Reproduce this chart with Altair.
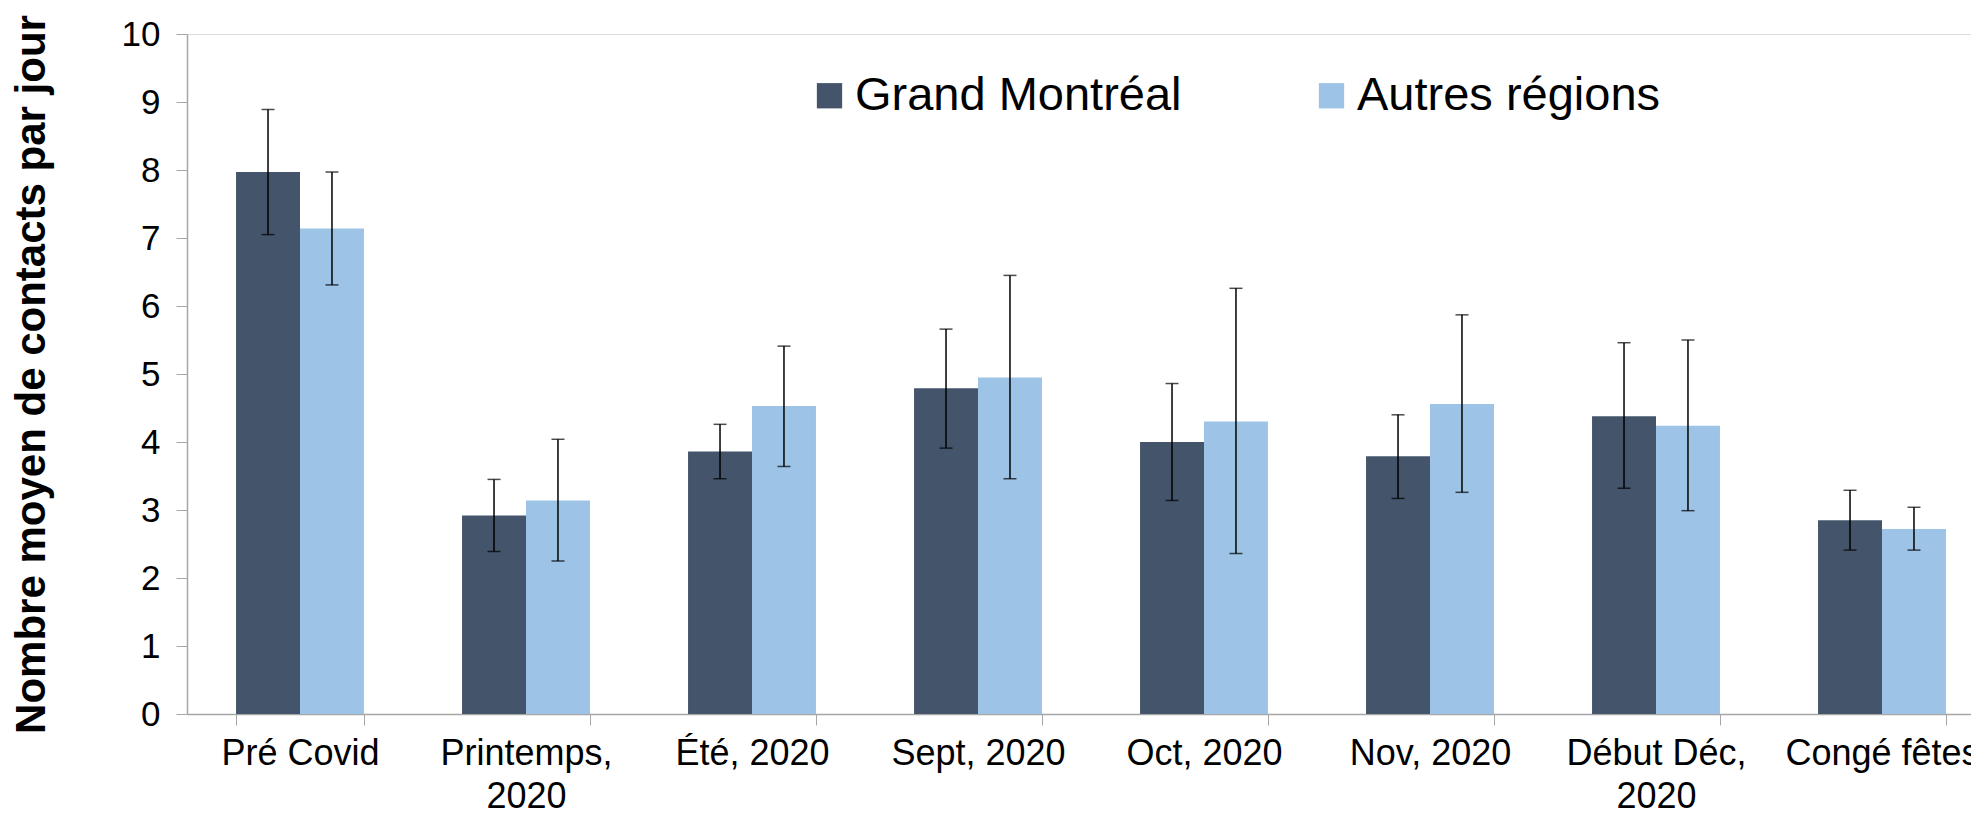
import altair as alt
import pandas as pd

categories = ["Pré Covid", "Printemps, 2020", "Été, 2020", "Sept, 2020",
              "Oct, 2020", "Nov, 2020", "Début Déc, 2020", "Congé fêtes"]
series = ["Grand Montréal", "Autres régions"]

gm_mean = [7.97, 2.92, 3.86, 4.79, 4.00, 3.79, 4.38, 2.85]
gm_low = [7.05, 2.39, 3.46, 3.91, 3.14, 3.17, 3.32, 2.41]
gm_high = [8.89, 3.45, 4.26, 5.66, 4.86, 4.40, 5.46, 3.29]

ar_mean = [7.14, 3.14, 4.53, 4.95, 4.30, 4.56, 4.24, 2.72]
ar_low = [6.31, 2.25, 3.64, 3.46, 2.36, 3.26, 2.99, 2.41]
ar_high = [7.97, 4.04, 5.41, 6.45, 6.26, 5.87, 5.50, 3.04]

wrapped = {"Printemps, 2020": ["Printemps,", "2020"],
           "Début Déc, 2020": ["Début Déc,", "2020"]}

rows = []
for i, c in enumerate(categories):
    rows.append({"cat": c, "serie": series[0], "v": gm_mean[i], "lo": gm_low[i], "hi": gm_high[i]})
    rows.append({"cat": c, "serie": series[1], "v": ar_mean[i], "lo": ar_low[i], "hi": ar_high[i]})
df = pd.DataFrame(rows)

label_expr = "datum.label"
for k, v in wrapped.items():
    label_expr = f"datum.label == '{k}' ? ['{v[0]}', '{v[1]}'] : (" + label_expr + ")"

FONT = "Liberation Sans"

x_enc = alt.X("cat:N", sort=categories, title=None,
              scale=alt.Scale(paddingInner=0.434, paddingOuter=0.217, range=[0, 1808]),
              axis=alt.Axis(labelAngle=0, labelExpr=label_expr, labelFontSize=36,
                            labelFont=FONT, labelColor="#000000", labelPadding=11,
                            labelLineHeight=43, tickBand="extent", tickSize=11,
                            tickColor="#a6a6a6", domainColor="#a6a6a6", domainWidth=1.5,
                            labelOverlap=False, labelBound=False, labelLimit=500))
xoff = alt.XOffset("serie:N", sort=series, scale=alt.Scale(paddingInner=0, paddingOuter=0))

bars = alt.Chart(df).mark_bar().encode(
    x=x_enc,
    xOffset=xoff,
    y=alt.Y("v:Q", title="Nombre moyen de contacts par jour",
            scale=alt.Scale(domain=[0, 10], nice=False, zero=True),
            axis=alt.Axis(values=list(range(0, 11)), format="d", grid=False, tickSize=11,
                          tickColor="#a6a6a6", domainColor="#a6a6a6", domainWidth=1.5,
                          labelFontSize=35, labelFont=FONT, labelColor="#000000",
                          labelPadding=16, titleFont=FONT, titleFontSize=42,
                          titleFontWeight="bold", titleColor="#000000", titlePadding=68)),
    color=alt.Color("serie:N", sort=series, title=None,
                    scale=alt.Scale(domain=series, range=["#44546A", "#9DC3E6"]),
                    legend=alt.Legend(orient="none", legendX=619, legendY=38,
                                      direction="horizontal", symbolType="square",
                                      symbolSize=640, symbolStrokeWidth=0,
                                      labelFont=FONT, labelFontSize=47, labelColor="#000000",
                                      labelOffset=2, columnPadding=126, labelLimit=600))
)

rules = alt.Chart(df).mark_rule(color="#000000", strokeWidth=1.5).encode(
    x=alt.X("cat:N", sort=categories),
    xOffset=xoff,
    y="lo:Q",
    y2="hi:Q",
)

caps_lo = alt.Chart(df).mark_tick(color="#000000", thickness=1.5, size=13, orient="horizontal").encode(
    x=alt.X("cat:N", sort=categories),
    xOffset=xoff,
    y="lo:Q",
)
caps_hi = alt.Chart(df).mark_tick(color="#000000", thickness=1.5, size=13, orient="horizontal").encode(
    x=alt.X("cat:N", sort=categories),
    xOffset=xoff,
    y="hi:Q",
)

chart = alt.layer(bars, rules, caps_lo, caps_hi).properties(
    width=1784, height=680,
    autosize=alt.AutoSizeParams(type="none"),
    padding={"left": 179, "top": 26, "right": 0, "bottom": 104},
).configure_view(stroke=None).configure(background="#ffffff")

chart.save("out.html", embed_options={"renderer": "svg", "actions": False})
